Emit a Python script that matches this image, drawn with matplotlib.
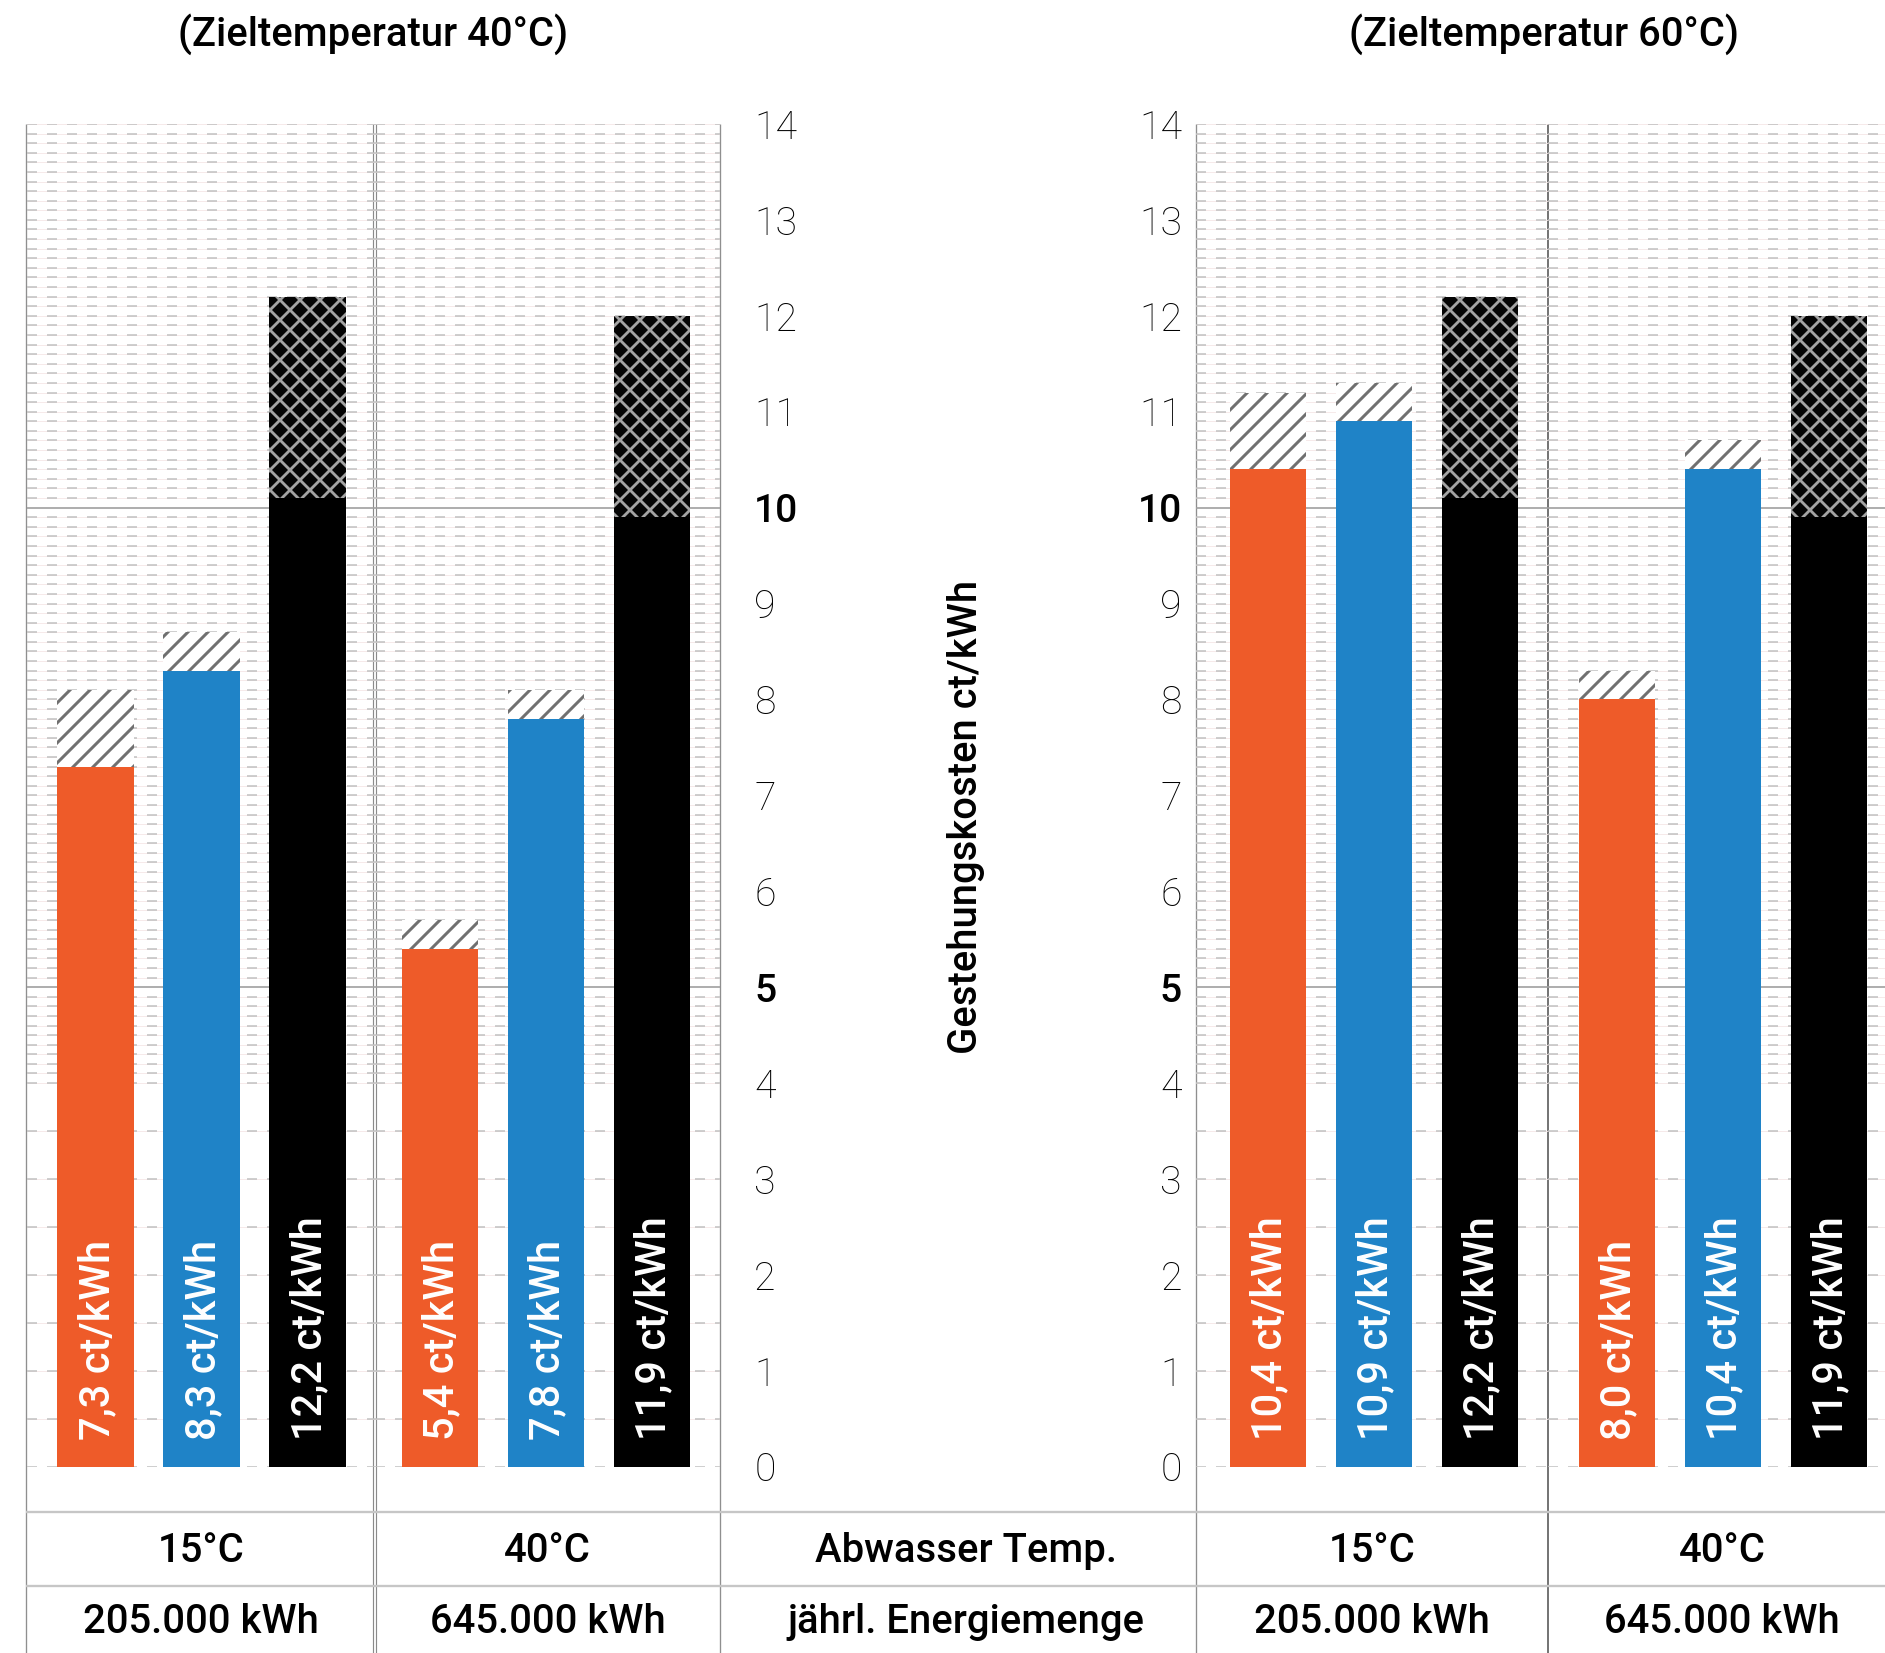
import matplotlib
matplotlib.use('Agg')
import matplotlib.pyplot as plt
import numpy as np
from matplotlib.transforms import offset_copy

# ---------------- data ----------------
ziel_titles = ['(Zieltemperatur 40°C)', '(Zieltemperatur 60°C)']
abwasser_temp = ['15°C', '40°C']
energiemenge = ['205.000 kWh', '645.000 kWh']
row_labels = ['Abwasser Temp.', 'jährl. Energiemenge']
axis_label = 'Gestehungskosten ct/kWh'
yticks = list(range(0, 15))
bold_ticks = [5, 10]

# [target 40°C, target 60°C] x [Abwasser 15°C, Abwasser 40°C]
orange_base = [[7.3, 5.4], [10.4, 8.0]]
orange_total = [[8.1, 5.7], [11.2, 8.3]]
blue_base = [[8.3, 7.8], [10.9, 10.4]]
blue_total = [[8.7, 8.1], [11.3, 10.7]]
black_base = [[10.1, 9.9], [10.1, 9.9]]
black_total = [[12.2, 12.0], [12.2, 12.0]]
orange_labels = [['7,3', '5,4'], ['10,4', '8,0']]
blue_labels = [['8,3', '7,8'], ['10,9', '10,4']]
black_labels = [['12,2', '11,9'], ['12,2', '11,9']]
unit = 'ct/kWh'

# ---------------- style ----------------
W, H = 1885, 1653
DPI = 120
ORANGE = '#EE5B29'
BLUE = '#1F83C7'
BLACK = '#000000'
FONT = ['Roboto', 'DejaVu Sans']
plt.rcParams['font.family'] = FONT
plt.rcParams['lines.scale_dashes'] = False

fig = plt.figure(figsize=(W / DPI, H / DPI), dpi=DPI)
bg = fig.add_axes([0, 0, 1, 1])
bg.set_xlim(0, W)
bg.set_ylim(H, 0)
bg.axis('off')


def px_axes(x0, x1, y0, y1):
    return fig.add_axes([x0 / W, 1 - y1 / H, (x1 - x0) / W, (y1 - y0) / H])


Y_TOP, Y_ZERO = 124, 1466.7
UNIT_PX = 106.0
# (left px, right px, x-data value at left edge)
panels = [(26.5, 375, -0.65), (375, 720, -0.61), (1196, 1548, -0.68), (1548, 1896, -0.65)]

dense = [round(v, 1) for v in np.arange(4.0, 14.001, 0.1)]
sparse = [0, 0.5, 1, 1.5, 2, 2.5, 3, 3.5]
dashed_levels = [v for v in sparse + dense if v not in (5.0, 10.0)]

axes = []
for i, (x0, x1, xl) in enumerate(panels):
    ax = px_axes(x0, x1, Y_TOP, Y_ZERO)
    ax.patch.set_visible(False)
    xr = xl + (x1 - x0) / UNIT_PX
    ax.set_xlim(xl, xr)
    ax.set_ylim(0, 14)
    for s in ax.spines.values():
        s.set_visible(False)
    ax.set_xticks([])
    ax.set_yticks([])
    ax.hlines(dashed_levels, xl, xr, colors='#f5e6e6', linewidth=0.5, zorder=0.5)
    ax.hlines(dashed_levels, xl, xr, colors='#c0c0c0', linewidth=0.9,
              linestyles=[(0, (6, 6))], zorder=1)
    ax.hlines([5, 10], xl, xr, colors='#a0a0a0', linewidth=1.0, zorder=1.2)
    axes.append(ax)

xs = np.arange(3)
bw = 0.72
label_fs = 25
for t in range(2):
    for a in range(2):
        ax = axes[t * 2 + a]
        bases = [orange_base[t][a], blue_base[t][a], black_base[t][a]]
        tots = [orange_total[t][a], blue_total[t][a], black_total[t][a]]
        cols = [ORANGE, BLUE, BLACK]
        ax.bar(xs, bases, width=bw, color=cols, linewidth=0, zorder=3)
        plt.rcParams['hatch.linewidth'] = 1.8
        ext = ax.bar(xs[:2], [tots[0] - bases[0], tots[1] - bases[1]], bottom=bases[:2],
                     width=bw, facecolor='white', edgecolor='#707070', linewidth=0,
                     hatch='//', zorder=3)
        for p in ext:
            if hasattr(p, 'set_hatch_linewidth'):
                p.set_hatch_linewidth(1.8)
        plt.rcParams['hatch.linewidth'] = 1.7
        mesh = ax.bar(xs[2:], [tots[2] - bases[2]], bottom=bases[2:], width=bw,
                      facecolor='#050505', edgecolor='#a4a4a4', linewidth=0,
                      hatch='xx', zorder=3)
        for p in mesh:
            if hasattr(p, 'set_hatch_linewidth'):
                p.set_hatch_linewidth(1.7)
        labs = [orange_labels[t][a], blue_labels[t][a], black_labels[t][a]]
        tr = offset_copy(ax.transData, fig=fig, x=2, y=27, units='dots')
        for x, lab in zip(xs, labs):
            ax.text(x, 0, f'{lab} {unit}', rotation=90, ha='center', va='bottom',
                    color='white', fontsize=label_fs, fontweight='medium',
                    transform=tr, zorder=5)

# tick labels of the two inner axes
tick_fs = 23.5
for ax, side, pad in [(axes[1], 'right', 20.5), (axes[2], 'left', 8.4)]:
    ax.set_yticks(yticks)
    if side == 'right':
        ax.yaxis.tick_right()
    else:
        ax.yaxis.tick_left()
    ax.tick_params(axis='y', length=0, pad=pad, labelsize=tick_fs)
    ax.set_yticklabels([str(v) for v in yticks])
    for lab, v in zip(ax.get_yticklabels(), yticks):
        lab.set_fontweight('medium' if v in bold_ticks else 'light')

# frame lines
bg.vlines([26.5, 720, 1196], Y_TOP, H, colors='#8f8f8f', linewidth=0.8)
bg.vlines([373.5, 376.5], Y_TOP, H, colors='#8a8a8a', linewidth=0.7)
bg.vlines([1548.5], Y_TOP, H, colors='#6a6a6a', linewidth=1.1)
bg.hlines([1512, 1586], 26.5, W, colors='#c6c6c6', linewidth=1.4)

# titles
txt_fs = 24
bg.text(373, 34, ziel_titles[0], ha='center', va='center', fontsize=txt_fs, fontweight='medium')
bg.text(1544, 34, ziel_titles[1], ha='center', va='center', fontsize=txt_fs, fontweight='medium')

# axis label
bg.text(966, 817, axis_label, rotation=90, ha='center', va='center',
        fontsize=txt_fs, fontweight='medium')

# table
centers = [(26.5 + 375) / 2, (375 + 720) / 2, (1196 + 1548) / 2, (1548 + 1896) / 2]
for i, cx in enumerate(centers):
    bg.text(cx, 1551, abwasser_temp[i % 2], ha='center', va='center',
            fontsize=txt_fs, fontweight='medium')
    bg.text(cx, 1622, energiemenge[i % 2], ha='center', va='center',
            fontsize=txt_fs, fontweight='medium')
bg.text(966, 1551, row_labels[0], ha='center', va='center', fontsize=txt_fs, fontweight='medium')
bg.text(966, 1622, row_labels[1], ha='center', va='center', fontsize=txt_fs, fontweight='medium')

fig.savefig('out.png', dpi=DPI)
